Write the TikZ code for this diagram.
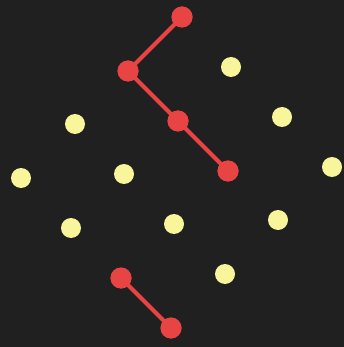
\documentclass[tikz,border=0pt]{standalone}
\definecolor{bg}{HTML}{202020}
\definecolor{rd}{HTML}{E94444}
\definecolor{yl}{HTML}{F9F59A}
\tikzset{
  rnode/.style={circle,fill=rd,inner sep=0pt,minimum size=21pt},
  ynode/.style={circle,fill=yl,inner sep=0pt,minimum size=20pt},
  edge/.style={draw=rd,line width=4pt}
}
\begin{document}
\begin{tikzpicture}[x=1pt,y=-1pt]
\fill[bg] (0,0) rectangle (344,347);
\useasboundingbox (0,0) rectangle (344,347);
\node[ynode] (y1) at (231,67) {};
\node[ynode] (y2) at (282,117) {};
\node[ynode] (y3) at (332,167) {};
\node[ynode] (y4) at (75,124) {};
\node[ynode] (y5) at (21,178) {};
\node[ynode] (y6) at (124,174) {};
\node[ynode] (y7) at (71,228) {};
\node[ynode] (y8) at (174,224) {};
\node[ynode] (y9) at (278,220) {};
\node[ynode] (y10) at (225,274) {};
\node[rnode] (r1) at (182,17) {};
\node[rnode] (r2) at (128,71) {};
\node[rnode] (r3) at (178,121) {};
\node[rnode] (r4) at (228,171) {};
\node[rnode] (r5) at (121,278) {};
\node[rnode] (r6) at (171,328) {};
\begin{scope}[on background layer/.style={}]
\end{scope}
\draw[edge] (r1.center) -- (r2.center) -- (r3.center) -- (r4.center);
\draw[edge] (r5.center) -- (r6.center);
\foreach \n in {r1,r2,r3,r4,r5,r6} \fill[rd] (\n) circle (10.5pt);
\end{tikzpicture}
\end{document}
